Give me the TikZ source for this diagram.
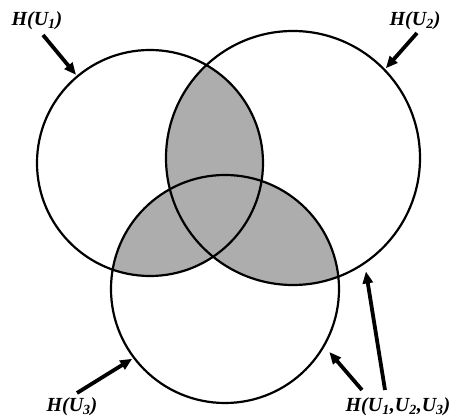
\documentclass[tikz,border=0pt]{standalone}
\usepackage{fontspec}
\setmainfont{Liberation Serif}
\usetikzlibrary{arrows.meta}
\begin{document}
\begin{tikzpicture}[x=1pt,y=1pt,
  venn/.style={draw, circle, line width=2.2pt, inner sep=0pt},
  lbl/.style={font=\fontsize{20}{22}\selectfont\bfseries\itshape, inner sep=0pt},
  ptr/.style={line width=3.8pt, -{Triangle[length=12pt,width=10pt]}, shorten >=1pt},
  shade/.style={fill=black!32}]
\useasboundingbox (0,0) rectangle (456,418);
% shaded overlaps
\begin{scope}
  \clip (150,255) circle (113);
  \fill[shade] (293,260) circle (127);
  \fill[shade] (225,129) circle (114);
\end{scope}
\begin{scope}
  \clip (293,260) circle (127);
  \fill[shade] (225,129) circle (114);
\end{scope}
% circles
\node[venn, minimum size=226pt] (c1) at (150,255) {};
\node[venn, minimum size=254pt] (c2) at (293,260) {};
\node[venn, minimum size=228pt] (c3) at (225,129) {};
% labels
\node[lbl] (h1) at (37,397) {H(U\textsubscript{1})};
\node[lbl] (h2) at (415,397) {H(U\textsubscript{2})};
\node[lbl] (h3) at (72,11) {H(U\textsubscript{3})};
\node[lbl] (h123) at (398,11) {H(U\textsubscript{1},U\textsubscript{2},U\textsubscript{3})};
% pointers
\draw[ptr] (43,383) -- (c1.130);
\draw[ptr] (417,385) -- (c2.44);
\draw[ptr] (77,25) -- (c3.217);
\draw[ptr] (362,28) -- ([shift={(5pt,-3pt)}]c3.-31);
\draw[ptr] (385,28) -- ([shift={(3pt,-5pt)}]c2.-57);
\end{tikzpicture}
\end{document}
